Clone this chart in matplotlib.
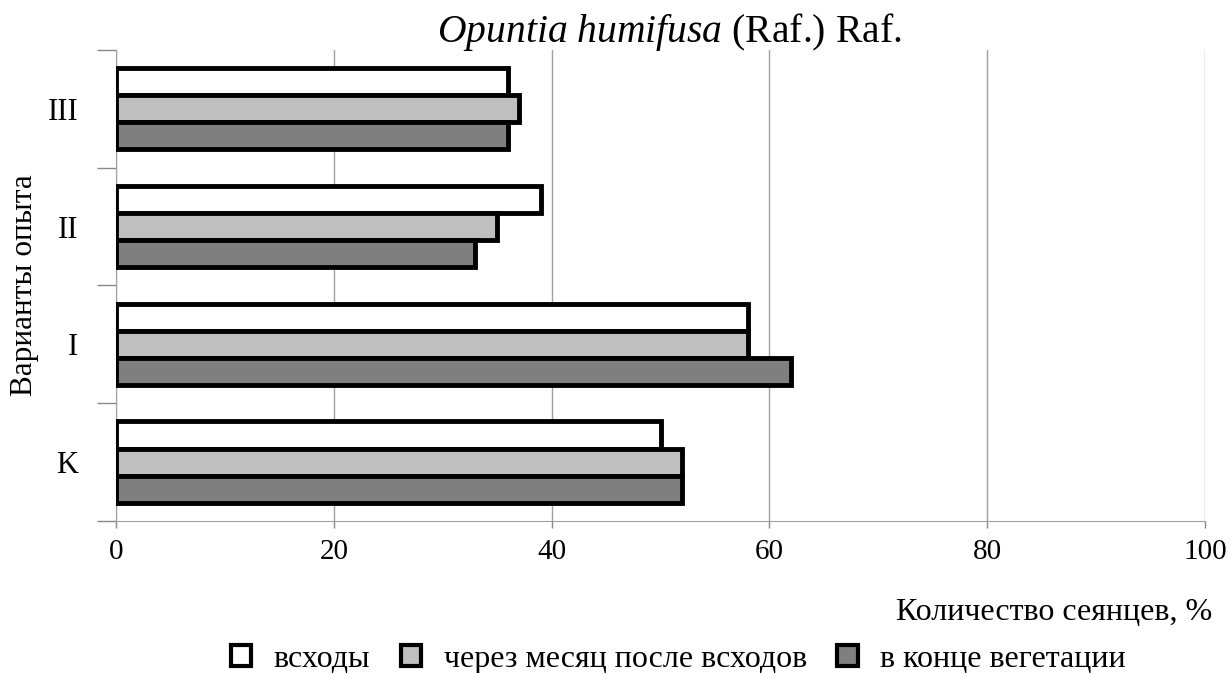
import matplotlib
matplotlib.use("Agg")
import matplotlib.pyplot as plt
from matplotlib.patches import Patch
import numpy as np

categories = ["K", "I", "II", "III"]
series_names = ["всходы", "через месяц после всходов", "в конце вегетации"]
vshody = [50, 58, 39, 36]
cherez_mesyac = [52, 58, 35, 37]
konec_veget = [52, 62, 33, 36]
colors = ["#ffffff", "#bfbfbf", "#7f7f7f"]
xticks = [0, 20, 40, 60, 80, 100]

plt.rcParams['font.family'] = ['Liberation Serif', 'DejaVu Serif']
plt.rcParams['mathtext.fontset'] = 'custom'
plt.rcParams['mathtext.rm'] = 'Liberation Serif'
plt.rcParams['mathtext.it'] = 'Liberation Serif:italic'

fig = plt.figure(figsize=(12.31, 6.73), dpi=100)
ax = fig.add_axes([0.0942, 0.2259, 0.8848, 0.6998])

y = np.arange(len(categories))
h = 0.23
for vals, off, c in zip([vshody, cherez_mesyac, konec_veget], [h, 0, -h], colors):
    ax.barh(y + off, vals, height=h, color=c, edgecolor="black", linewidth=3.5, zorder=3)

ax.set_xlim(0, 100)
ax.set_ylim(-0.5, len(categories) - 0.5)
ax.set_xticks(xticks)
ax.set_xticklabels([str(t) for t in xticks], fontsize=21)
ax.set_yticks(y)
ax.set_yticklabels(categories, fontsize=22)
ax.tick_params(axis='y', which='major', length=0, pad=27)
ax.set_yticks(np.arange(-0.5, len(categories), 1.0), minor=True)
ax.tick_params(axis='y', which='minor', length=14, color='#888888', width=1)
ax.tick_params(axis='x', length=5, color='#888888', width=1, pad=8)
ax.grid(axis='x', color='#a0a0a0', linewidth=1, zorder=0)
for s in ['top', 'right']:
    ax.spines[s].set_visible(False)
ax.spines['left'].set_color('#a0a0a0')
ax.spines['bottom'].set_color('#a0a0a0')

ax.set_ylabel("Варианты опыта", fontsize=22.5, labelpad=6)
fig.text(0.985, 0.09, "Количество сеянцев, %", fontsize=23, ha='right', va='center')
fig.text(0.5435, 0.952, r"$\mathit{Opuntia\ humifusa}$ (Raf.) Raf.", fontsize=28.5, ha='center', va='center')

handles = [Patch(facecolor=c, edgecolor='black', linewidth=3) for c in colors]
fig.legend(handles, series_names, loc='center', bbox_to_anchor=(0.551, 0.02), ncol=3,
           frameon=False, fontsize=23, handlelength=0.65, handleheight=0.65,
           columnspacing=0.95, handletextpad=0.7, borderaxespad=0)

fig.savefig("out.png", dpi=100)
